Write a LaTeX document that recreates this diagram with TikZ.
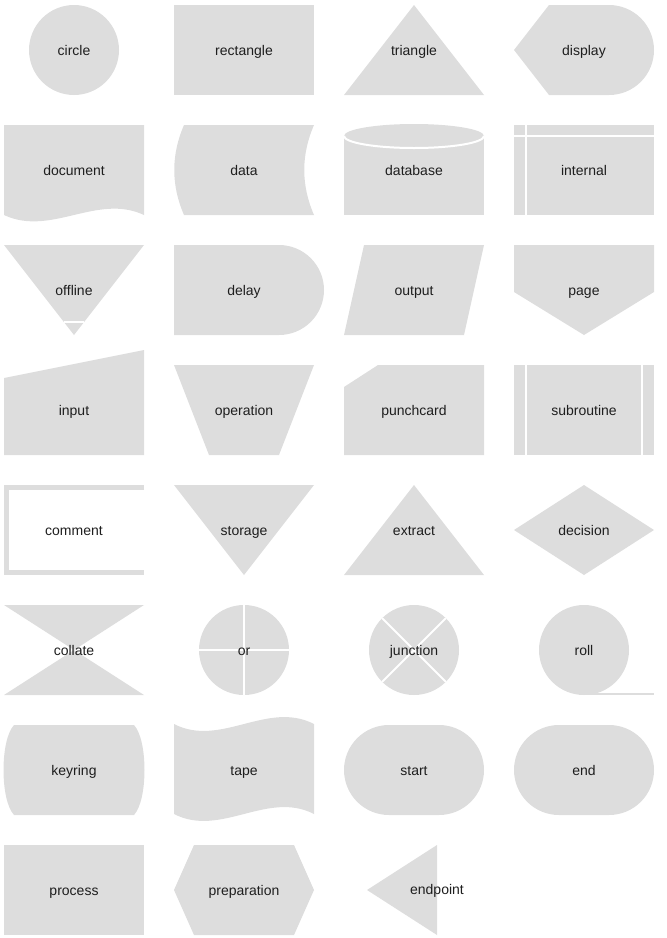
\documentclass[tikz,border=0pt]{standalone}
\usepackage{fontspec}
\setmainfont{Liberation Sans}
\definecolor{shapegray}{HTML}{DDDDDD}
\definecolor{txt}{HTML}{1E1E1E}
\tikzset{
  shp/.style={fill=shapegray, draw=none},
  sepline/.style={draw=white, line width=2pt},
  lbl/.style={font=\fontsize{14}{16}\selectfont, text=txt, inner sep=0pt, text height=13pt, text depth=3pt}
}
\begin{document}
\begin{tikzpicture}[x=1pt,y=-1pt]
\useasboundingbox (0,0) rectangle (667,938);
% row 1
\fill[shp] (74,50) circle (45);
\fill[shp] (174,5) rectangle (314,95);
\fill[shp] (414,5) -- (484,95) -- (344,95) -- cycle;
\fill[shp] (514,50) -- (549,5) -- (609,5) arc (-90:90:45) -- (549,95) -- cycle;
% row 2
\fill[shp] (4,125) -- (144,125) -- (144,215) .. controls (97,193) and (51,237) .. (4,215) -- cycle;
\fill[shp] (184,125) -- (314,125) .. controls (301,155) and (301,185) .. (314,215) -- (184,215) .. controls (171,185) and (171,155) .. (184,125) -- cycle;
\fill[shp] (344,136) rectangle (484,215);
\fill[shp] (414,136) ellipse (70 and 12);
\draw[sepline] (344,136) arc (180:0:70 and 12);
\fill[shp] (514,125) rectangle (654,215);
\draw[sepline] (526,125) -- (526,215);
\draw[sepline] (514,136) -- (654,136);
% row 3
\fill[shp] (4,245) -- (144,245) -- (74,335) -- cycle;
\draw[sepline] (64,322) -- (84,322);
\fill[shp] (174,245) -- (279,245) arc (-90:90:45) -- (174,335) -- cycle;
\fill[shp] (364,245) -- (484,245) -- (464,335) -- (344,335) -- cycle;
\fill[shp] (514,245) -- (654,245) -- (654,292) -- (584,335) -- (514,292) -- cycle;
% row 4
\fill[shp] (4,378) -- (144,350) -- (144,455) -- (4,455) -- cycle;
\fill[shp] (174,365) -- (314,365) -- (279,455) -- (209,455) -- cycle;
\fill[shp] (378,365) -- (484,365) -- (484,455) -- (344,455) -- (344,387) -- cycle;
\fill[shp] (514,365) rectangle (654,455);
\draw[sepline] (526,365) -- (526,455);
\draw[sepline] (642,365) -- (642,455);
% row 5
\draw[shapegray, line width=5pt] (144,487.5) -- (6.5,487.5) -- (6.5,572.5) -- (144,572.5);
\fill[shp] (174,485) -- (314,485) -- (244,575) -- cycle;
\fill[shp] (414,485) -- (484,575) -- (344,575) -- cycle;
\fill[shp] (514,530) -- (584,485) -- (654,530) -- (584,575) -- cycle;
% row 6
\fill[shp] (4,605) -- (144,605) -- (74,650) -- cycle;
\fill[shp] (4,695) -- (144,695) -- (74,650) -- cycle;
\fill[shp] (244,650) circle (45);
\draw[sepline] (244,605) -- (244,695);
\draw[sepline] (199,650) -- (289,650);
\fill[shp] (414,650) circle (45);
\draw[sepline] (382.2,618.2) -- (445.8,681.8);
\draw[sepline] (382.2,681.8) -- (445.8,618.2);
\fill[shp] (584,650) circle (45);
\draw[shapegray, line width=2pt] (584,694) -- (654,694);
% row 7
\fill[shp] (14,725) -- (134,725) .. controls (148,740) and (148,800) .. (134,815) -- (14,815) .. controls (0,800) and (0,740) .. (14,725) -- cycle;
\fill[shp] (174,724) .. controls (220.7,748) and (267.3,700) .. (314,724) -- (314,814) .. controls (267.3,790) and (220.7,838) .. (174,814) -- cycle;
\fill[shp, rounded corners=45pt] (344,725) rectangle (484,815);
\fill[shp, rounded corners=45pt] (514,725) rectangle (654,815);
% row 8
\fill[shp] (4,845) rectangle (144,935);
\fill[shp] (174,890) -- (194,845) -- (294,845) -- (314,890) -- (294,935) -- (194,935) -- cycle;
\fill[shp] (367,890) -- (437,845) -- (437,935) -- cycle;
% labels
\node[lbl] (l1) at (74,50) {circle};
\node[lbl] (l2) at (244,50) {rectangle};
\node[lbl] (l3) at (414,50) {triangle};
\node[lbl] (l4) at (584,50) {display};
\node[lbl] (l5) at (74,170) {document};
\node[lbl] (l6) at (244,170) {data};
\node[lbl] (l7) at (414,170) {database};
\node[lbl] (l8) at (584,170) {internal};
\node[lbl] (l9) at (74,290) {offline};
\node[lbl] (l10) at (244,290) {delay};
\node[lbl] (l11) at (414,290) {output};
\node[lbl] (l12) at (584,290) {page};
\node[lbl] (l13) at (74,410) {input};
\node[lbl] (l14) at (244,410) {operation};
\node[lbl] (l15) at (414,410) {punchcard};
\node[lbl] (l16) at (584,410) {subroutine};
\node[lbl] (l17) at (74,530) {comment};
\node[lbl] (l18) at (244,530) {storage};
\node[lbl] (l19) at (414,530) {extract};
\node[lbl] (l20) at (584,530) {decision};
\node[lbl] (l21) at (74,650) {collate};
\node[lbl] (l22) at (244,650) {or};
\node[lbl] (l23) at (414,650) {junction};
\node[lbl] (l24) at (584,650) {roll};
\node[lbl] (l25) at (74,770) {keyring};
\node[lbl] (l26) at (244,770) {tape};
\node[lbl] (l27) at (414,770) {start};
\node[lbl] (l28) at (584,770) {end};
\node[lbl] (l29) at (74,890) {process};
\node[lbl] (l30) at (244,890) {preparation};
\node[lbl] (l31) at (437,889) {endpoint};
\end{tikzpicture}
\end{document}
